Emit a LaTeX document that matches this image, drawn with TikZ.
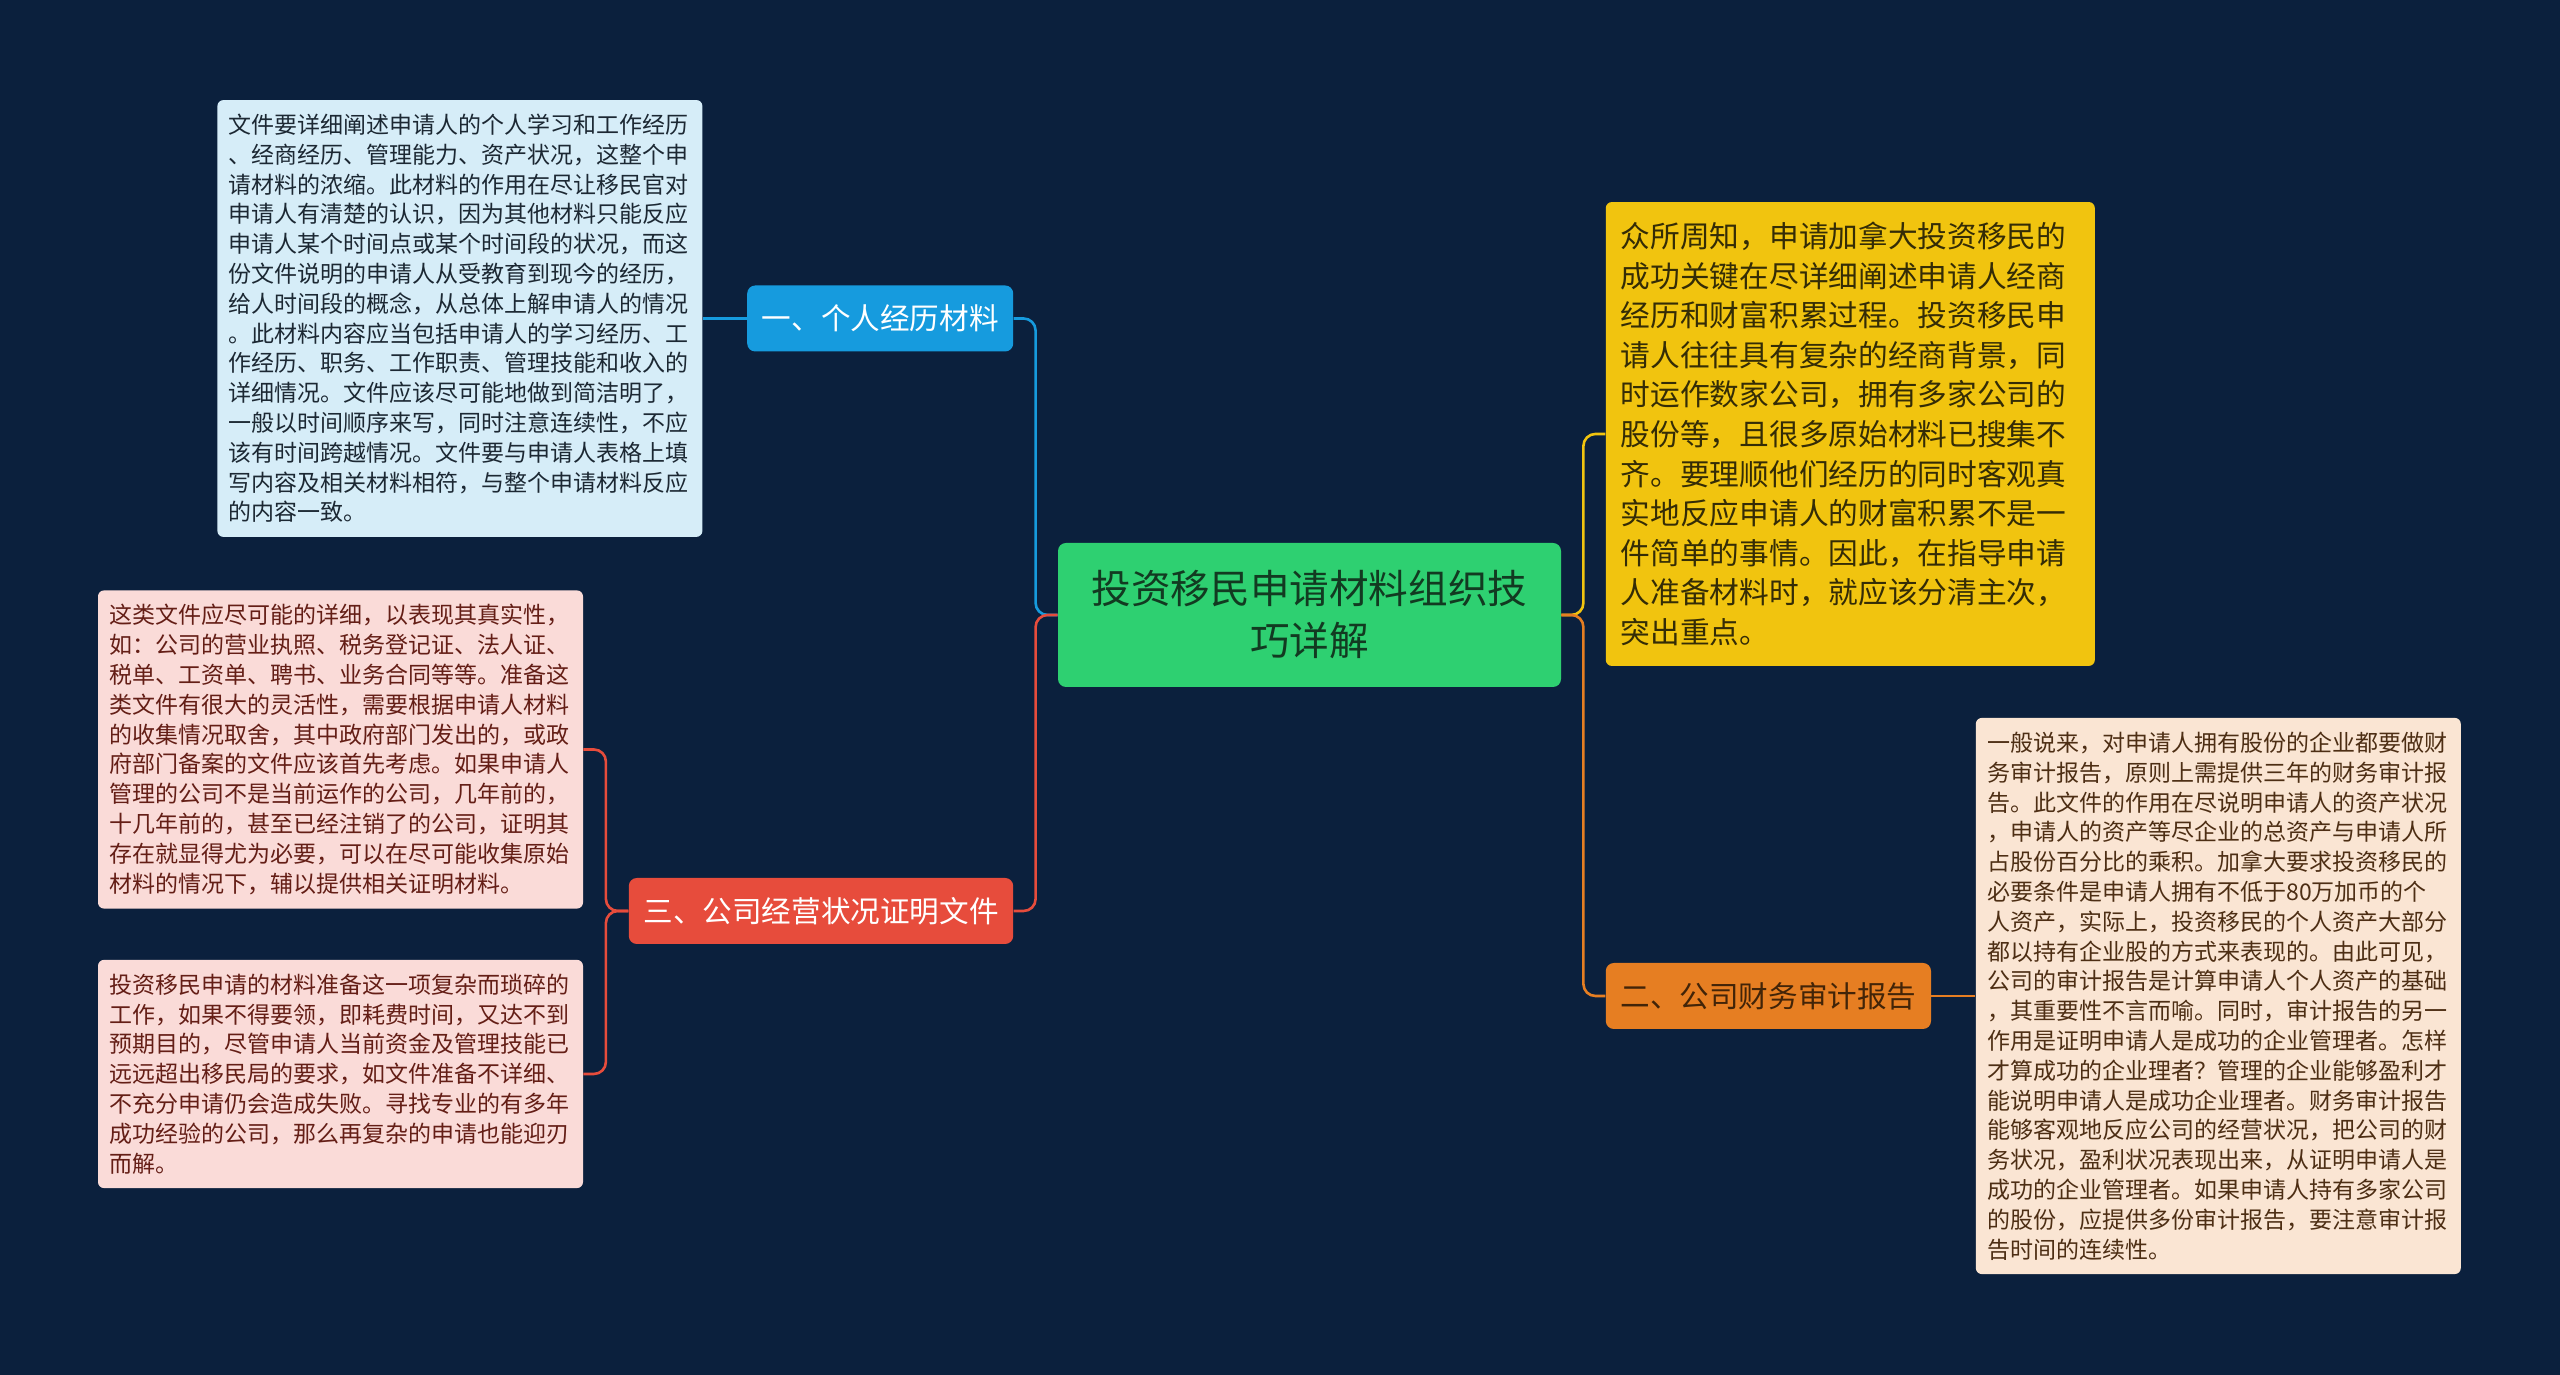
\documentclass[tikz,border=0pt]{standalone}
\usepackage{fontspec}
\newfontfamily\cjk{Noto Sans CJK SC}
\usepackage{tikz}
\usetikzlibrary{
  positioning,
}
\definecolor{bgnavy}{RGB}{11, 32, 61}
\definecolor{rootgreen}{RGB}{46, 208, 113}
\definecolor{rootink}{RGB}{18, 58, 33}
\definecolor{subblue}{RGB}{22, 155, 222}
\definecolor{subred}{RGB}{231, 76, 60}
\definecolor{suborange}{RGB}{230, 126, 34}
\definecolor{subyellow}{RGB}{241, 196, 15}
\definecolor{yellowink}{RGB}{52, 44, 6}
\definecolor{orangeink}{RGB}{66, 36, 8}
\definecolor{paleblue}{RGB}{214, 237, 248}
\definecolor{blueink}{RGB}{28, 40, 51}
\definecolor{palered}{RGB}{250, 219, 216}
\definecolor{redink}{RGB}{100, 30, 22}
\definecolor{palebeige}{RGB}{250, 229, 211}
\definecolor{beigeink}{RGB}{77, 46, 20}
\tikzstyle{sub} = [
  rectangle,
  rounded corners=4pt,
  minimum height=33pt,
  inner xsep=7.3pt,
  inner ysep=0pt,
  font=\cjk\fontsize{14.8pt}{18pt}\selectfont,
]
\tikzstyle{txt} = [
  rectangle,
  rounded corners=3pt,
  text width=231pt,
  inner xsep=5.75pt,
  inner ysep=7pt,
  align=left,
  font=\cjk\fontsize{11.5pt}{14.9pt}\selectfont,
]
\tikzstyle{conn} = [
  line width=1.3pt,
  rounded corners=6pt,
]

\begin{document}
\begin{tikzpicture}
			\fill[bgnavy] (0,0) rectangle (1280pt,687.5pt);
			\useasboundingbox (0,0) rectangle (1280pt,687.5pt);

			\node[rectangle,rounded corners=4pt,fill=rootgreen,text=rootink,minimum width=251.5pt,minimum height=72pt,align=center,font=\cjk\fontsize{19.8pt}{26pt}\selectfont] (main) at (654.75pt,380pt) {投资移民申请材料组织技\\巧详解};

			\node[sub,fill=subblue,text=white,yshift=148.25pt] (sub1) [left=22pt of main] {一、个人经历材料};
			\node[sub,fill=subred,text=white,yshift=-148pt] (sub3) [left=22pt of main] {三、公司经营状况证明文件};
			\node[sub,fill=suborange,text=orangeink,yshift=-190.5pt] (sub2) [right=22pt of main] {二、公司财务审计报告};
			\node[rectangle,rounded corners=3pt,fill=subyellow,text=yellowink,text width=229.5pt,inner xsep=7.5pt,inner ysep=10pt,align=left,font=\cjk\fontsize{14.85pt}{19.8pt}\selectfont,yshift=90.5pt] (sub4) [right=22pt of main] {众所周知，申请加拿大投资移民的\\成功关键在尽详细阐述申请人经商\\经历和财富积累过程。投资移民申\\请人往往具有复杂的经商背景，同\\时运作数家公司，拥有多家公司的\\股份等，且很多原始材料已搜集不\\齐。要理顺他们经历的同时客观真\\实地反应申请人的财富积累不是一\\件简单的事情。因此，在指导申请\\人准备材料时，就应该分清主次，\\突出重点。};

			\node[txt,fill=paleblue,text=blueink] (txt1) [left=22pt of sub1] {文件要详细阐述申请人的个人学习和工作经历\\、经商经历、管理能力、资产状况，这整个申\\请材料的浓缩。此材料的作用在尽让移民官对\\申请人有清楚的认识，因为其他材料只能反应\\申请人某个时间点或某个时间段的状况，而这\\份文件说明的申请人从受教育到现今的经历，\\给人时间段的概念，从总体上解申请人的情况\\。此材料内容应当包括申请人的学习经历、工\\作经历、职务、工作职责、管理技能和收入的\\详细情况。文件应该尽可能地做到简洁明了，\\一般以时间顺序来写，同时注意连续性，不应\\该有时间跨越情况。文件要与申请人表格上填\\写内容及相关材料相符，与整个申请材料反应\\的内容一致。};
			\node[txt,fill=palered,text=redink,yshift=80.75pt] (txt3) [left=22.5pt of sub3] {这类文件应尽可能的详细，以表现其真实性，\\如：公司的营业执照、税务登记证、法人证、\\税单、工资单、聘书、业务合同等等。准备这\\类文件有很大的灵活性，需要根据申请人材料\\的收集情况取舍，其中政府部门发出的，或政\\府部门备案的文件应该首先考虑。如果申请人\\管理的公司不是当前运作的公司，几年前的，\\十几年前的，甚至已经注销了的公司，证明其\\存在就显得尤为必要，可以在尽可能收集原始\\材料的情况下，辅以提供相关证明材料。};
			\node[txt,fill=palered,text=redink,yshift=-81.5pt] (txt4) [left=22.5pt of sub3] {投资移民申请的材料准备这一项复杂而琐碎的\\工作，如果不得要领，即耗费时间，又达不到\\预期目的，尽管申请人当前资金及管理技能已\\远远超出移民局的要求，如文件准备不详细、\\不充分申请仍会造成失败。寻找专业的有多年\\成功经验的公司，那么再复杂的申请也能迎刃\\而解。};
			\node[txt,fill=palebeige,text=beigeink] (txt2) [right=22pt of sub2] {一般说来，对申请人拥有股份的企业都要做财\\务审计报告，原则上需提供三年的财务审计报\\告。此文件的作用在尽说明申请人的资产状况\\，申请人的资产等尽企业的总资产与申请人所\\占股份百分比的乘积。加拿大要求投资移民的\\必要条件是申请人拥有不低于80万加币的个\\人资产，实际上，投资移民的个人资产大部分\\都以持有企业股的方式来表现的。由此可见，\\公司的审计报告是计算申请人个人资产的基础\\，其重要性不言而喻。同时，审计报告的另一\\作用是证明申请人是成功的企业管理者。怎样\\才算成功的企业理者？管理的企业能够盈利才\\能说明申请人是成功企业理者。财务审计报告\\能够客观地反应公司的经营状况，把公司的财\\务状况，盈利状况表现出来，从证明申请人是\\成功的企业管理者。如果申请人持有多家公司\\的股份，应提供多份审计报告，要注意审计报\\告时间的连续性。};

			\draw[conn,subblue] (main.west) -- ++(-11pt,0) |- (sub1.east);
			\draw[conn,subred] (main.west) -- ++(-11pt,0) |- (sub3.east);
			\draw[conn,subyellow] (main.east) -- ++(11pt,0) |- (sub4.west);
			\draw[conn,suborange] (main.east) -- ++(11pt,0) |- (sub2.west);
			\draw[conn,subblue] (sub1.west) -- (txt1.east);
			\draw[conn,subred] (sub3.west) -- ++(-11.25pt,0) |- (txt3.east);
			\draw[conn,subred] (sub3.west) -- ++(-11.25pt,0) |- (txt4.east);
			\draw[conn,suborange] (sub2.east) -- (txt2.west);
		\end{tikzpicture}
\end{document}
